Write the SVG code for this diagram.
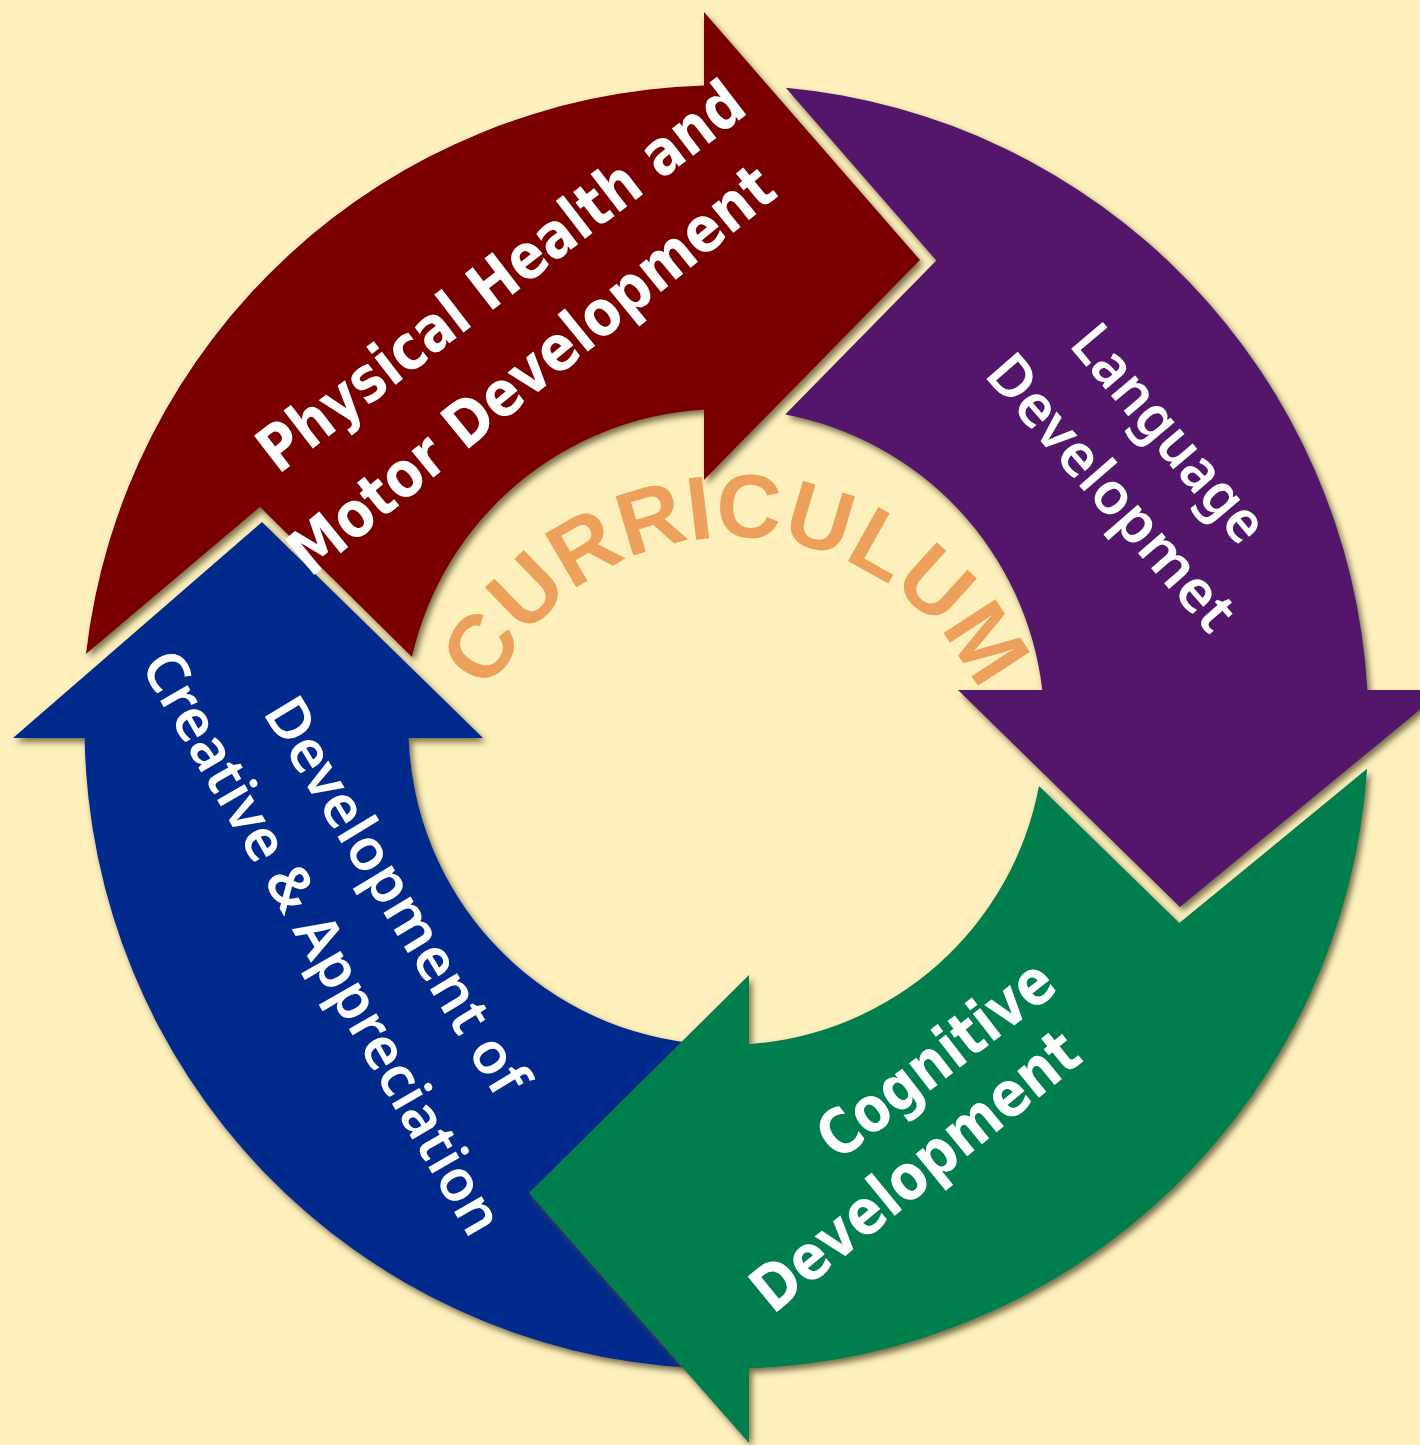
<svg xmlns="http://www.w3.org/2000/svg" width="1420" height="1445" viewBox="0 0 1420 1445">
<style>
.arrow{filter:url(#sh)}
.lbl{fill:#ffffff}
.geo{font-family:"DejaVu Sans","Liberation Sans",sans-serif;font-weight:700;font-size:63px}
.hum{font-family:"Noto Sans","Open Sans",sans-serif;font-weight:600;font-size:58px}
.title{font-family:"Liberation Sans",Arial,sans-serif;font-weight:700;font-size:90px;fill:#EDA05A}
</style>
<defs>
<filter id="sh" x="-10%" y="-10%" width="120%" height="120%">
<feDropShadow dx="3" dy="4" stdDeviation="3" flood-color="#5a5030" flood-opacity="0.8"/>
</filter>
<path id="curv" d="M 466,806 A 269 269 0 0 1 1004,806"/>
</defs>
<rect width="1420" height="1445" fill="#FDF0BC"/>

<g id="node-creative">
<path class="arrow" fill="#022C8C" d="M 691,1368 A 642 642 0 0 1 84.6,738 L 13,738 L 262,522 L 483,738 L 408.7,738 A 318 318 0 0 0 688.7,1042.7 L 537,1193 Z"/>
<text class="lbl hum" text-anchor="middle" transform="translate(379.5,906) rotate(58.8)" textLength="453" lengthAdjust="spacingAndGlyphs">Development of</text>
<text class="lbl hum" text-anchor="middle" transform="translate(305,952.5) rotate(60.1)" textLength="663" lengthAdjust="spacingAndGlyphs">Creative &amp; Appreciation</text>
</g>

<g id="node-cognitive">
<path class="arrow" fill="#007E4E" d="M 1367.1,768.7 A 642 642 0 0 1 749,1368.6 L 749,1443 L 529,1193 L 749,975 L 749,1044.2 A 318 318 0 0 0 1039,786 L 1179.3,923.1 Z"/>
<text class="lbl geo" text-anchor="middle" transform="translate(949,1076) rotate(-37.8)" textLength="281" lengthAdjust="spacingAndGlyphs">Cognitive</text>
<text class="lbl geo" text-anchor="middle" transform="translate(929,1187.5) rotate(-39.3)" textLength="403" lengthAdjust="spacingAndGlyphs">Development</text>
</g>

<g id="node-physical">
<path class="arrow" fill="#7A0000" d="M 86,654 A 642 642 0 0 1 704,85.4 L 704,12 L 920,260 L 704,480 L 704,409.8 A 318 318 0 0 0 412,657 L 260,507 Z"/>
<text class="lbl geo" text-anchor="middle" transform="translate(514,293.5) rotate(-37.6)" textLength="595" lengthAdjust="spacingAndGlyphs">Physical Health and</text>
<text class="lbl geo" text-anchor="middle" transform="translate(545,386.5) rotate(-39.2)" textLength="606" lengthAdjust="spacingAndGlyphs">Motor Development</text>
</g>

<g id="node-language">
<path class="arrow" fill="#52186A" d="M 785.8,87.7 A 642 642 0 0 1 1367.4,690 L 1444,690 L 1180,907 L 958,690 L 1042.3,690 A 318 318 0 0 0 785.2,414.5 L 936.3,260.5 Z"/>
<text class="lbl hum" text-anchor="middle" transform="translate(1154,446.5) rotate(49.7)" textLength="266" lengthAdjust="spacingAndGlyphs">Language</text>
<text class="lbl hum" text-anchor="middle" transform="translate(1096.5,505.5) rotate(49)" textLength="346" lengthAdjust="spacingAndGlyphs">Developmet</text>
</g>

<g id="center-title">
<text class="title" text-anchor="middle"><textPath href="#curv" startOffset="50%">CURRICULUM</textPath></text>
</g>
</svg>
